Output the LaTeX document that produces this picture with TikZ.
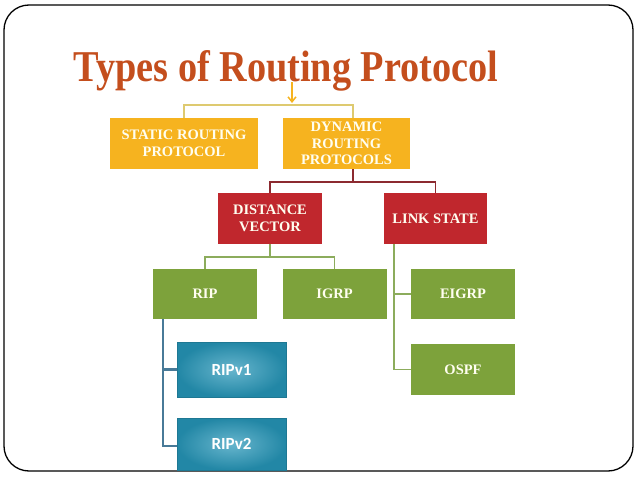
\documentclass[tikz,border=0pt]{standalone}
\usepackage{fontspec}
\setmainfont{Liberation Serif}
\newfontfamily\boxsans{Carlito}
\usetikzlibrary{arrows.meta}
\definecolor{mtitle}{RGB}{196,78,29}
\definecolor{myellow}{RGB}{246,179,31}
\definecolor{mred}{RGB}{192,39,45}
\definecolor{mgreen}{RGB}{125,162,59}
\definecolor{mblue}{RGB}{38,150,184}
\definecolor{lyellow}{RGB}{222,202,112}
\definecolor{lred}{RGB}{140,42,48}
\definecolor{lgreen}{RGB}{140,172,92}
\definecolor{lblue}{RGB}{72,122,152}
\tikzset{box/.style = {minimum width = 104, minimum height = 51, inner sep = 0,
    align = center, text = white!94!yellow, font = \fontsize{14.5}{16.5}\selectfont\bfseries},
  ybox/.style = {box, fill = myellow},
  rbox/.style = {box, fill = mred},
  gbox/.style = {box, fill = mgreen},
  bbox/.style = {box, minimum width = 109, inner color = mblue!70!white, outer color = mblue!90!black,
    draw = mblue!80!black, line width = 0.6, text = white, font = \boxsans\fontsize{17}{17}\selectfont\bfseries}}

\begin{document}
\begin{tikzpicture}[x=1pt, y=-1pt]
      \useasboundingbox (0, 0) rectangle (638, 479);
      \draw [line width = 1.3, rounded corners = 25] (4, 5) rectangle (633, 471);
      \coordinate (arrtop) at (292, 82);
      \coordinate (arrtip) at (292, 103);
      \draw [myellow, line width = 1.5, -{Straight Barb[length = 5, width = 8]}] (arrtop) -- (arrtip);
      \node (title) at (286, 71) [mtitle, font = \fontsize{44}{44}\selectfont\bfseries, xscale = 0.87]
        {Types of Routing Protocol};
      \node [ybox, minimum width = 148] (static) at (184, 143.5) {STATIC ROUTING\\PROTOCOL};
      \node [ybox, minimum width = 127] (dynamic) at (346.5, 143.5) {DYNAMIC\\ROUTING\\PROTOCOLS};
      \node [rbox] (dv) at (270, 218.5) {DISTANCE\\VECTOR};
      \node [rbox, minimum width = 103] (ls) at (435.5, 218.5) {LINK STATE};
      \node [gbox, minimum height = 50] (rip) at (205, 294) {RIP};
      \node [gbox, minimum height = 50] (igrp) at (334.5, 294) {IGRP};
      \node [gbox, minimum height = 50] (eigrp) at (463, 294) {EIGRP};
      \node [gbox] (ospf) at (463, 369.5) {OSPF};
      \node [bbox, minimum height = 55] (ripv1) at (231.5, 369.5) {RIPv1};
      \node [bbox, minimum height = 52] (ripv2) at (231.5, 444) {RIPv2};
      \coordinate (yjoin) at (292, 105);
      \coordinate (rjoin) at (353, 182);
      \coordinate (gjoin) at (270, 257);
      \draw [lyellow, line width = 1.5] (static.north) |- (yjoin) -| ([xshift = 6.5]dynamic.north);
      \draw [lred, line width = 1.5] ([xshift = 6.5]dynamic.south) -- (rjoin);
      \draw [lred, line width = 1.5] (dv.north) |- (rjoin) -| (ls.north);
      \draw [lgreen, line width = 1.5] (dv.south) -- (gjoin);
      \draw [lgreen, line width = 1.5] (rip.north) |- (gjoin) -| (igrp.north);
      \draw [lgreen, line width = 1.5] ([xshift = -41.5]ls.south) |- (eigrp.west);
      \draw [lgreen, line width = 1.5] ([xshift = -41.5]ls.south) |- (ospf.west);
      \draw [lblue, line width = 2.5] ([xshift = -42]rip.south) |- (ripv1.west);
      \draw [lblue, line width = 2.5] ([xshift = -42]rip.south) |- ([yshift = -2]ripv2.west);
    \end{tikzpicture}
\end{document}
